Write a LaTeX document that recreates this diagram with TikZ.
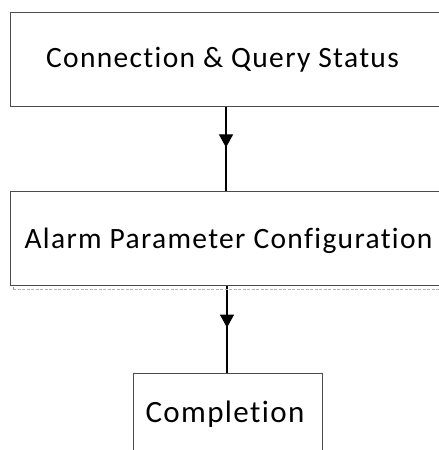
\documentclass[tikz,border=0pt]{standalone}
\usepackage{fontspec}
\setmainfont{Carlito}
\newfontfamily\lblfont[LetterSpace=4.5,Ligatures={NoCommon,NoRequired,NoContextual}]{Carlito}
\usetikzlibrary{arrows.meta,decorations.markings}
\tikzset{
  box/.style={draw=black!70, line width=1.2pt, fill=none, inner sep=0pt, anchor=north west},
  lbl/.style={font=\lblfont\fontsize{29.5}{32}\selectfont, inner sep=0pt, anchor=base},
  conn/.style={draw=black, line width=1.1pt,
    postaction={decorate},
    decoration={markings, mark=at position #1 with {\arrow{Triangle[width=14pt,length=13pt]}}}},
  faint/.style={draw=black!30, line width=0.6pt, dash pattern=on 3pt off 1.5pt}
}
\begin{document}
\begin{tikzpicture}[x=1pt,y=-1pt]
  \useasboundingbox (0,0) rectangle (439,450);
  \clip (0,0) rectangle (439,450);
  \node[box, minimum width=450pt, minimum height=94pt] (b1) at (10,12) {};
  \node[box, minimum width=450pt, minimum height=94pt] (b2) at (10,191) {};
  \node[box, minimum width=189pt, minimum height=120pt] (b3) at (133,373) {};
  \node[lbl] (t1) at (222.5,67) {Connection \& Query Status};
  \node[lbl] (t2) at (228.5,248) {Alarm Parameter Configuration};
  \node[lbl, font=\lblfont\fontsize{31}{34}\selectfont] (t3) at (225,422) {Completion};
  \coordinate (x1) at (226,0);
  \coordinate (x2) at (227,0);
  \draw[conn=0.48] (b1.south west -| x1) -- (b2.north west -| x1);
  \draw[conn=0.477] (b2.south west -| x2) -- (b3.north west -| x2);
  \coordinate (d1) at (13,289);
  \coordinate (d2) at (439,289);
  \draw[faint] (d1) -- (d2);
  \draw[black!40, line width=0.6pt] (13,286.5) -- (d1);
\end{tikzpicture}
\end{document}
